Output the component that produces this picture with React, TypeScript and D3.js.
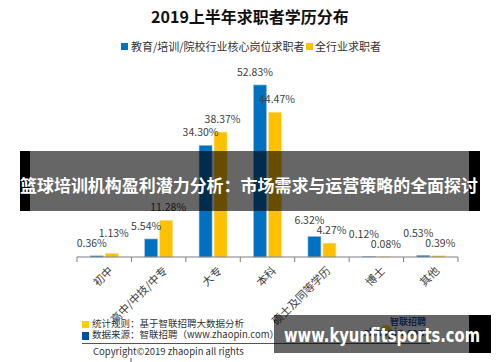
import React from "react";
import * as d3 from "d3";

// data
const categories = ["初中", "高中/中技/中专", "大专", "本科", "硕士及同等学历", "博士", "其他"];
const eduValues = [0.36, 5.54, 34.3, 52.83, 6.32, 0.12, 0.53];
const allValues = [1.13, 11.28, 38.37, 44.47, 4.27, 0.08, 0.39];
const seriesNames = ["教育/培训/院校行业核心岗位求职者", "全行业求职者"];

const title = "2019上半年求职者学历分布";
const overlayTitle = "篮球培训机构盈利潜力分析：市场需求与运营策略的全面探讨";
const footNotes = ["统计规则：基于智联招聘大数据分析", "数据来源：智联招聘（www.zhaopin.com）"];
const copyright = "Copyright©2019 zhaopin all rights";
const watermark = "www.kyunfitsports.com";

const W = 500;
const H = 362;
const BLUE = "#0070C0";
const YELLOW = "#FFC000";
const FONT = "'Noto Sans CJK SC', 'Noto Sans', sans-serif";

export default function App() {
  const x = d3.scaleBand<string>().domain(categories).range([77, 458]).padding(0);
  const y = d3.scaleLinear().domain([0, 60]).range([257, 61.6]);
  const barW = 13;
  const half = 7.5;
  const baseY = y(0);

  const fmt = (v: number) => d3.format(".2f")(v) + "%";

  // label placement: above the bar, larger label pushed up when they collide
  const labels = categories.map((c, i) => {
    const cx = (x(c) ?? 0) + x.bandwidth() / 2;
    const a = eduValues[i];
    const b = allValues[i];
    let ya = y(a) - 9;
    let yb = y(b) - 9;
    if (Math.abs(ya - yb) < 10) {
      if (a >= b) ya = yb - 10;
      else yb = ya - 10;
    }
    return { cx, ya, yb, a, b };
  });

  const ticks = [...categories.map((c) => x(c) ?? 0), 458];

  return (
    <div style={{ position: "fixed", left: 0, top: 0, width: W, height: H, background: "#fff" }}>
      <svg width={W} height={H} style={{ display: "block", fontFamily: FONT }}>
        <rect width={W} height={H} fill="#fff" />

        {/* title */}
        <text x={250} y={23} textAnchor="middle" fontSize={16} fontWeight="bold" fill="#111">
          {title}
        </text>

        {/* legend */}
        <rect x={121} y={43} width={7} height={7} fill={BLUE} />
        <text x={131} y={51} fontSize={11} fill="#333">{seriesNames[0]}</text>
        <rect x={306} y={43} width={7} height={7} fill={YELLOW} />
        <text x={315} y={51} fontSize={11} fill="#333">{seriesNames[1]}</text>

        {/* bars */}
        {categories.map((c, i) => {
          const cx = (x(c) ?? 0) + x.bandwidth() / 2;
          return (
            <g key={c}>
              <rect
                x={cx - half - barW / 2}
                y={y(eduValues[i])}
                width={barW}
                height={baseY - y(eduValues[i])}
                fill={BLUE}
                stroke="#9dc3e6"
                strokeWidth={0.6}
              />
              <rect
                x={cx + half - barW / 2}
                y={y(allValues[i])}
                width={barW}
                height={baseY - y(allValues[i])}
                fill={YELLOW}
                stroke="#ffe699"
                strokeWidth={0.6}
              />
            </g>
          );
        })}

        {/* value labels */}
        {labels.map((l, i) => (
          <g key={i} fontSize={10.5} fill="#404040" textAnchor="middle">
            <text x={l.cx - half - 5} y={l.ya}>{fmt(l.a)}</text>
            <text x={l.cx + half + 2} y={l.yb}>{fmt(l.b)}</text>
          </g>
        ))}

        {/* x axis */}
        <line x1={77} x2={458} y1={baseY} y2={baseY} stroke="#7f7f7f" strokeWidth={1.2} />
        {ticks.map((t, i) => (
          <line key={i} x1={t} x2={t} y1={baseY} y2={baseY + 5} stroke="#7f7f7f" strokeWidth={1} />
        ))}
        {categories.map((c) => {
          const cx = (x(c) ?? 0) + x.bandwidth() / 2 + 2;
          return (
            <text
              key={c}
              transform={`translate(${cx},${baseY + 7}) rotate(-45)`}
              textAnchor="end"
              dominantBaseline="hanging"
              fontSize={11}
              fill="#404040"
            >
              {c}
            </text>
          );
        })}

        {/* footer */}
        <rect x={82} y={321} width={7} height={7} fill="#FFCC00" />
        <text x={92} y={327} fontSize={9.5} fill="#333">{footNotes[0]}</text>
        <rect x={82} y={332} width={7} height={8} fill="#0050A0" />
        <text x={92} y={338} fontSize={9.5} fill="#333">{footNotes[1]}</text>
        <line x1={82} x2={430} y1={343.5} y2={343.5} stroke="#555" strokeWidth={1.2} />
        <text x={93} y={355} fontSize={9.5} fill="#333">{copyright}</text>
        <line x1={131} x2={131} y1={358} y2={362} stroke="#555" strokeWidth={1} />

        {/* faint zhaopin logo under watermark */}
        <circle cx={386} cy={331} r={6} fill="#f5c300" opacity={0.8} />
        <text x={390} y={325} fontSize={9} fontWeight="bold" fill="#2a4ea0">智联招聘</text>
        <text x={364} y={336} fontSize={10} fontWeight="bold" fill="#2a4ea0">zhaopin.com</text>

        {/* overlay band */}
        <rect x={20} y={151} width={10} height={60} fill="#000" />
        <rect x={469} y={151} width={11} height={60} fill="#000" />
        <rect x={30} y={151} width={439} height={60} fill="rgba(0,0,0,0.6)" />
        <text
          x={249}
          y={192}
          textAnchor="middle"
          fontSize={17}
          fontWeight="bold"
          fill="#fff"
          textLength={458}
          lengthAdjust="spacingAndGlyphs"
        >
          {overlayTitle}
        </text>

        {/* bottom watermark */}
        <rect x={274} y={315} width={195} height={38} fill="rgba(0,0,0,0.6)" />
        <rect x={469} y={315} width={22} height={38} fill="#000" />
        <text
          x={284}
          y={342}
          fontSize={19}
          fontWeight="bold"
          fill="#fff"
          fontFamily="'DejaVu Sans', sans-serif"
          textLength={196}
          lengthAdjust="spacingAndGlyphs"
        >
          {watermark}
        </text>
      </svg>
    </div>
  );
}
